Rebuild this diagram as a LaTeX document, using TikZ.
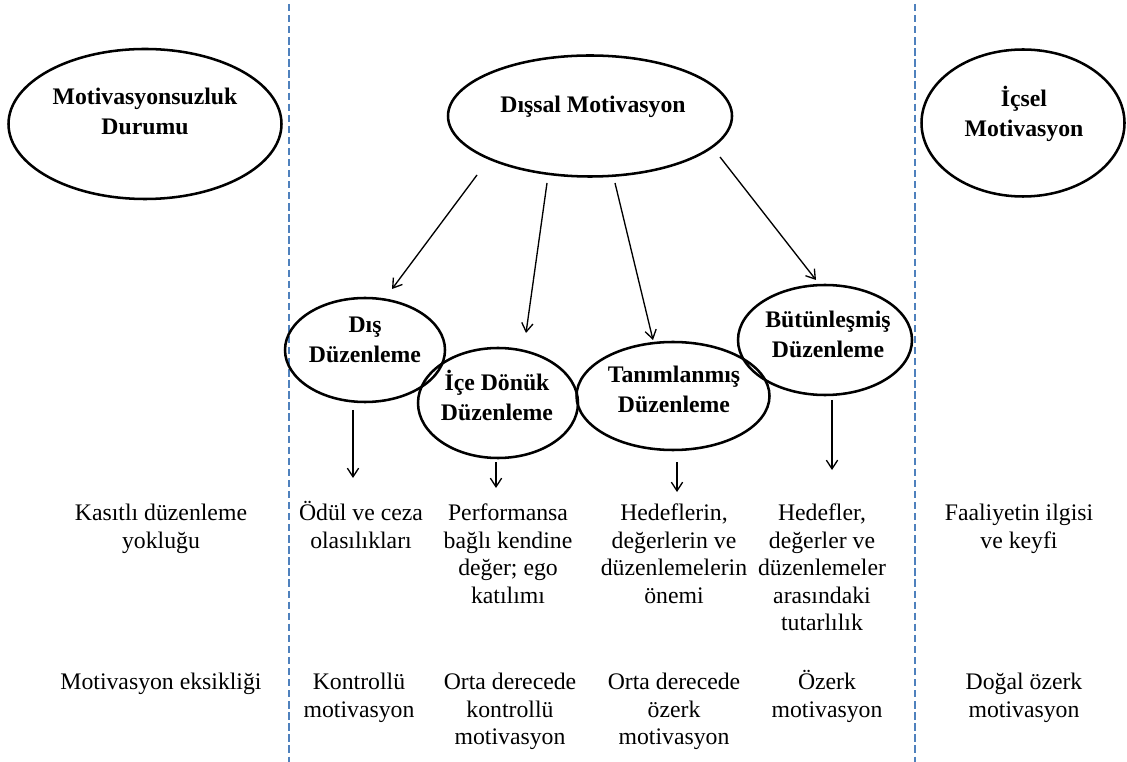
\documentclass[tikz,border=0pt]{standalone}
\usepackage{fontspec}
\setmainfont{Liberation Serif}
\usetikzlibrary{arrows.meta,shapes.geometric}
\definecolor{dashblue}{HTML}{4F81BD}
\newdimen\pxu \pxu=0.75pt
\newcommand\toprule{\rule{0pt}{0.95em}}
\begin{document}
\begin{tikzpicture}[x=0.75pt,y=-0.75pt,
  oval/.style={ellipse, draw=black, line width=1.9pt, inner sep=0pt},
  ttl/.style={align=center, inner sep=0pt, anchor=north, font=\fontsize{17.8}{22.5}\selectfont\bfseries},
  txt/.style={align=center, inner sep=0pt, anchor=north, font=\fontsize{17.8}{20.6}\selectfont},
  arr/.style={line width=1pt, -{Straight Barb[length=6.5pt,width=8.5pt]}},
  divider/.style={draw=dashblue, line width=2pt, dash pattern=on 5.5pt off 2.8pt}]
\useasboundingbox (0,0) rectangle (1127,762);
% dividers
\coordinate (l1) at (289,4); \coordinate (l2) at (289,762);
\coordinate (r1) at (915,4); \coordinate (r2) at (915,762);
\draw[divider] (l1) -- (l2);
\draw[divider] (r1) -- (r2);
% ellipses
\node[oval, minimum width=273\pxu, minimum height=150\pxu] (mot) at (145,124) {};
\node[oval, minimum width=284\pxu, minimum height=121\pxu] (dissal) at (590,116) {};
\node[oval, minimum width=203\pxu, minimum height=147\pxu] (icsel) at (1023,123) {};
\node[oval, minimum width=160\pxu, minimum height=104\pxu] (dis) at (365,350) {};
\node[oval, minimum width=160\pxu, minimum height=110\pxu] (ice) at (498,403) {};
\node[oval, minimum width=193\pxu, minimum height=108\pxu] (tan) at (673,396) {};
\node[oval, minimum width=174\pxu, minimum height=110\pxu] (but) at (825,340) {};
% ellipse titles
\node[ttl] (motT) at (145,82) {\toprule Motivasyonsuzluk\\Durumu};
\node[ttl] (dissalT) at (593,90) {\toprule Dışsal Motivasyon};
\node[ttl] (icselT) at (1024,84) {\toprule İçsel\\Motivasyon};
\node[ttl] (disT) at (365,310) {\toprule Dış\\Düzenleme};
\node[ttl] (iceT) at (497,368) {\toprule İçe Dönük\\Düzenleme};
\node[ttl] (tanT) at (674,360) {\toprule Tanımlanmış\\Düzenleme};
\node[ttl] (butT) at (828,305) {\toprule Bütünleşmiş\\Düzenleme};
% arrow end points
\coordinate (s1) at (477,175); \coordinate (t1) at (392,289);
\coordinate (s2) at (547,183); \coordinate (t2) at (526,333);
\coordinate (s3) at (615,183); \coordinate (t3) at (653,340);
\coordinate (s4) at (720,157); \coordinate (t4) at (816,280);
\draw[arr] (s1) -- (t1);
\draw[arr] (s2) -- (t2);
\draw[arr] (s3) -- (t3);
\draw[arr] (s4) -- (t4);
\coordinate (d1s) at (353,410); \coordinate (d1e) at (353,478);
\coordinate (d2s) at (496,462); \coordinate (d2e) at (496,488);
\coordinate (d3s) at (677,462); \coordinate (d3e) at (677,492);
\coordinate (d4s) at (832,400); \coordinate (d4e) at (832,470);
\draw[arr] (d1s) -- (d1e);
\draw[arr] (d2s) -- (d2e);
\draw[arr] (d3s) -- (d3e);
\draw[arr] (d4s) -- (d4e);
% row 1 texts
\node[txt] (r1c0) at (161,498) {\toprule Kasıtlı düzenleme\\yokluğu};
\node[txt] (r1c1) at (361,498) {\toprule Ödül ve ceza\\olasılıkları};
\node[txt] (r1c2) at (508,498) {\toprule Performansa\\bağlı kendine\\değer; ego\\katılımı};
\node[txt] (r1c3) at (674,498) {\toprule Hedeflerin,\\değerlerin ve\\düzenlemelerin\\önemi};
\node[txt] (r1c4) at (822,498) {\toprule Hedefler,\\değerler ve\\düzenlemeler\\arasındaki\\tutarlılık};
\node[txt] (r1c5) at (1019,498) {\toprule Faaliyetin ilgisi\\ve keyfi};
% row 2 texts
\node[txt] (r2c0) at (161,667) {\toprule Motivasyon eksikliği};
\node[txt] (r2c1) at (359,667) {\toprule Kontrollü\\motivasyon};
\node[txt] (r2c2) at (510,667) {\toprule Orta derecede\\kontrollü\\motivasyon};
\node[txt] (r2c3) at (674,667) {\toprule Orta derecede\\özerk\\motivasyon};
\node[txt] (r2c4) at (827,667) {\toprule Özerk\\motivasyon};
\node[txt] (r2c5) at (1024,667) {\toprule Doğal özerk\\motivasyon};
\end{tikzpicture}
\end{document}
